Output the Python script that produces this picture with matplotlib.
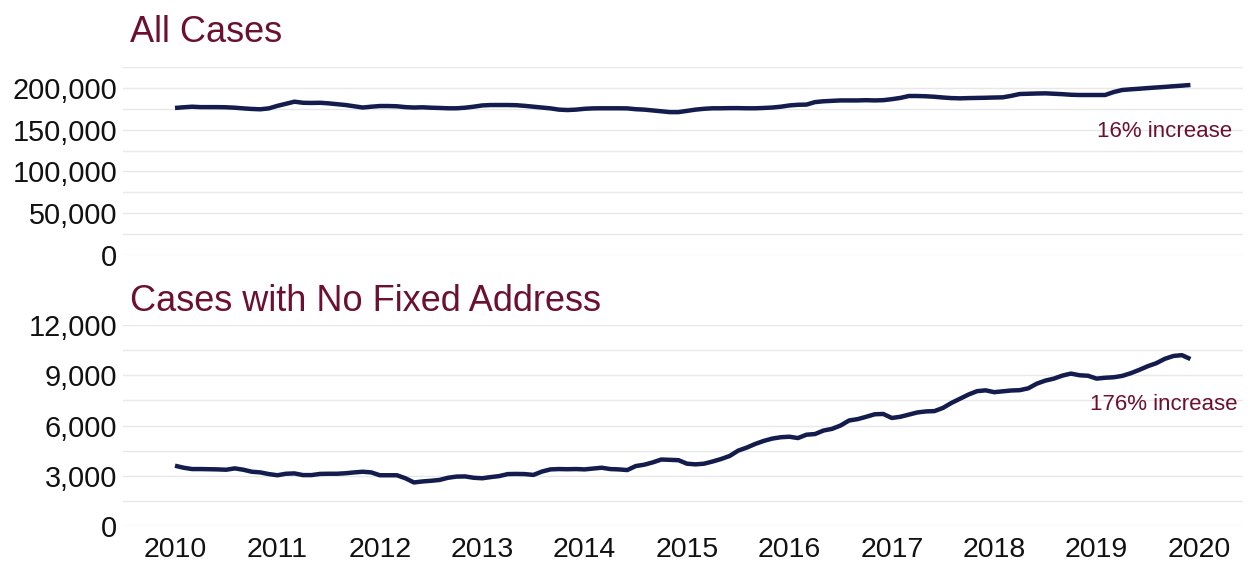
import numpy as np
import matplotlib.pyplot as plt
from matplotlib.ticker import MultipleLocator, FuncFormatter

plt.rcParams['font.family'] = ['Liberation Sans', 'DejaVu Sans']

# monthly, Jan 2010 .. Dec 2019
all_cases = [
    176.0, 176.8, 177.5, 177.0, 177.0, 177.0, 176.8, 176.3, 175.5, 174.8, 174.4, 175.5,
    178.5, 181.0, 183.5, 182.2, 182.0, 182.2, 181.5, 180.5, 179.5, 178.0, 176.5, 177.5,
    178.3, 178.3, 178.0, 177.0, 176.5, 176.8, 176.3, 176.0, 175.6, 175.6, 176.3, 177.5,
    179.0, 179.5, 179.5, 179.5, 179.3, 178.5, 177.5, 176.5, 175.5, 174.0, 173.5, 174.0,
    175.0, 175.5, 175.6, 175.6, 175.6, 175.5, 174.5, 174.0, 173.0, 172.0, 171.0, 171.0,
    172.5, 174.0, 175.0, 175.6, 175.6, 175.8, 175.8, 175.6, 175.6, 176.0, 176.5, 177.5,
    179.0, 179.8, 180.0, 183.0, 184.0, 184.5, 185.0, 185.0, 185.0, 185.3, 185.0, 185.3,
    186.5, 188.0, 190.3, 190.3, 190.0, 189.4, 188.5, 187.8, 187.5, 187.8, 188.0, 188.2,
    188.5, 188.7, 190.5, 192.7, 193.0, 193.3, 193.5, 193.0, 192.5, 191.8, 191.5, 191.5,
    191.5, 191.5, 195.0, 197.5, 198.3, 199.0, 199.8, 200.5, 201.2, 202.0, 202.7, 203.5,
]
all_cases = [v * 1000 for v in all_cases]

nfa_cases = [
    3600, 3480, 3400, 3400, 3390, 3380, 3360, 3440, 3360, 3240, 3200, 3100,
    3030, 3120, 3140, 3040, 3040, 3110, 3120, 3120, 3150, 3200, 3240, 3200,
    3030, 3030, 3030, 2850, 2600, 2660, 2700, 2750, 2880, 2950, 2960, 2880,
    2850, 2920, 2980, 3100, 3110, 3100, 3050, 3250, 3380, 3400, 3390, 3400,
    3380, 3430, 3480, 3400, 3380, 3340, 3580, 3660, 3800, 3970, 3950, 3930,
    3720, 3680, 3720, 3850, 4000, 4180, 4500, 4680, 4900, 5080, 5220, 5300,
    5330, 5250, 5450, 5490, 5700, 5800, 6000, 6300, 6380, 6520, 6670, 6690,
    6450, 6520, 6650, 6780, 6840, 6860, 7050, 7350, 7600, 7850, 8050, 8100,
    7990, 8040, 8090, 8110, 8220, 8500, 8680, 8800, 8980, 9100, 9000, 8970,
    8800, 8850, 8880, 8960, 9120, 9320, 9540, 9720, 9980, 10150, 10200, 9970,
]

years = list(range(2010, 2021))
x = 2010 + np.arange(len(all_cases)) / 12

line_col = '#141b4d'
title_col = '#6b1030'
grid_col = '#e8e8e8'

fig = plt.figure(figsize=(12.53, 5.67), dpi=100)
ax1 = fig.add_axes([0.098, 0.5503, 0.894, 0.3315])
ax2 = fig.add_axes([0.098, 0.0723, 0.894, 0.3545])

ax1.plot(x, all_cases, color=line_col, lw=3.2, solid_capstyle='butt')
ax2.plot(x, nfa_cases, color=line_col, lw=3.2, solid_capstyle='butt')

comma = FuncFormatter(lambda v, p: f'{int(v):,}')

for ax, top, major, minor in [(ax1, 225000, 50000, 25000), (ax2, 12000, 3000, 1500)]:
    ax.set_ylim(0, top)
    ax.set_xlim(2009.49, 2020.43)
    ax.yaxis.set_major_locator(MultipleLocator(major))
    ax.yaxis.set_minor_locator(MultipleLocator(minor))
    ax.yaxis.set_major_formatter(comma)
    ax.grid(axis='y', which='both', color=grid_col, lw=1)
    ax.set_axisbelow(True)
    for s in ax.spines.values():
        s.set_visible(False)
    ax.tick_params(axis='y', which='both', length=0, labelsize=20.8, pad=4, labelcolor='#111111')
    ax.set_xticks(years)

ax1.tick_params(axis='x', length=0, labelbottom=False)
ax2.tick_params(axis='x', length=0, labelsize=20.5, pad=8, labelcolor='#111111')
ax2.set_xticklabels([str(y) for y in years])

fig.text(130 / 1253, 1 - 42 / 567, 'All Cases', fontsize=26, color=title_col, va='baseline')
fig.text(130 / 1253, 1 - 311 / 567, 'Cases with No Fixed Address', fontsize=26, color=title_col, va='baseline')

ax1.text(2020.32, 148000, '16% increase', fontsize=16, color=title_col, ha='right', va='center')
ax2.text(2020.38, 7250, '176% increase', fontsize=16, color=title_col, ha='right', va='center')

fig.savefig('out.png', dpi=100)
